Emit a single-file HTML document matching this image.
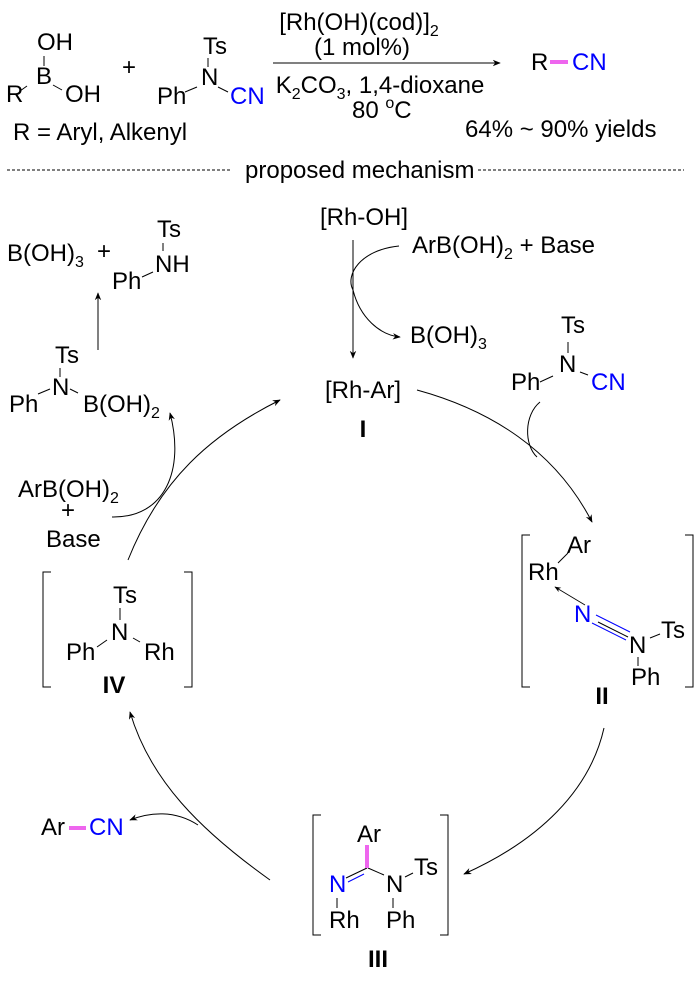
<!DOCTYPE html>
<html><head><meta charset="utf-8"><style>
html,body{margin:0;padding:0;background:#fff;}
svg text{font-family:"Liberation Sans",Arial,sans-serif;font-size:24px;fill:#000;}
.b{fill:#0000ff !important;}
.m{text-anchor:middle;}
</style></head><body>
<svg width="700" height="981" viewBox="0 0 700 981" xmlns="http://www.w3.org/2000/svg">
<defs>
<marker id="a" viewBox="0 0 10 10" refX="9" refY="5" markerWidth="8" markerHeight="8" orient="auto-start-reverse"><path d="M0,1 L10,5 L0,9 L3,5z" fill="#000"/></marker>
</defs>
<g stroke="#000" stroke-width="1" fill="none">
<line x1="44" y1="56" x2="44" y2="66"/>
<line x1="20" y1="91" x2="27" y2="86"/>
<line x1="53" y1="85" x2="62" y2="90"/>
<line x1="208" y1="58" x2="208" y2="67"/>
<line x1="185" y1="92" x2="197" y2="87"/>
<line x1="218" y1="87" x2="228" y2="92"/>
<line x1="273" y1="63" x2="500" y2="63" marker-end="url(#a)"/>
<line x1="7" y1="170" x2="232" y2="170" stroke-dasharray="3,2"/>
<line x1="478" y1="170" x2="684" y2="170" stroke-dasharray="3,2"/>
<line x1="353" y1="240" x2="353" y2="358" marker-end="url(#a)"/>
<path d="M399,246 C360,250 345,275 353,290 C360,318 380,335 400,337" marker-end="url(#a)"/>
<line x1="98" y1="350" x2="98" y2="293" marker-end="url(#a)"/>
<line x1="163" y1="243" x2="163" y2="251"/>
<line x1="142" y1="277" x2="153" y2="272"/>
<line x1="60" y1="368" x2="60" y2="377"/>
<line x1="38" y1="394" x2="50" y2="389"/>
<line x1="70" y1="389" x2="78" y2="393"/>
<line x1="568" y1="342" x2="568" y2="353"/>
<line x1="540" y1="382" x2="553" y2="376"/>
<line x1="580" y1="372" x2="588" y2="375"/>
<path d="M417,390 C490,410 555,450 592,522" marker-end="url(#a)"/>
<path d="M540,402 C524,415 524,445 537,457"/>
<path d="M604,728 C590,790 540,840 464,874" marker-end="url(#a)"/>
<path d="M270,880 C200,830 150,780 130,712" marker-end="url(#a)"/>
<path d="M198,825 C175,810 150,812 130,820" marker-end="url(#a)"/>
<path d="M128,560 C160,480 210,435 280,400" marker-end="url(#a)"/>
<path d="M112,517 C165,518 185,470 170,413" marker-end="url(#a)"/>
<path d="M530,535 H522 V687 H530 M685,535 H693 V687 H685"/>
<path d="M51,572 H43 V687 H51 M184,572 H192 V687 H184"/>
<path d="M321,815 H313 V935 H321 M440,815 H448 V935 H440"/>
<line x1="558" y1="563" x2="568" y2="553"/>
<line x1="585" y1="605" x2="555" y2="587" stroke-width="0.8" marker-end="url(#a)"/>
<line x1="596" y1="615" x2="630" y2="632" stroke="#0000ff"/>
<line x1="592" y1="623" x2="626" y2="640" stroke="#0000ff"/>
<line x1="598" y1="622" x2="628" y2="637"/>
<line x1="650" y1="638" x2="660" y2="634"/>
<line x1="638" y1="657" x2="638" y2="666"/>
<line x1="120" y1="608" x2="120" y2="620"/>
<line x1="97" y1="647" x2="107" y2="640"/>
<line x1="133" y1="638" x2="140" y2="642"/>
<line x1="367" y1="868" x2="346" y2="878"/>
<line x1="364" y1="874" x2="348" y2="882" stroke="#0000ff"/>
<line x1="368" y1="868" x2="384" y2="875"/>
<line x1="405" y1="877" x2="413" y2="873"/>
<line x1="337" y1="898" x2="337" y2="908"/>
<line x1="393" y1="898" x2="393" y2="908"/>
</g>
<line x1="367" y1="845" x2="367" y2="868" stroke="#ee66ee" stroke-width="4"/>
<line x1="550" y1="62" x2="568" y2="62" stroke="#ee66ee" stroke-width="4"/>
<line x1="69" y1="828" x2="86" y2="828" stroke="#ee66ee" stroke-width="4"/>
<text x="37" y="50">OH</text>
<text x="36" y="84">B</text>
<text x="6" y="102">R</text>
<text x="65" y="102">OH</text>
<text x="122" y="75">+</text>
<text x="203" y="54">Ts</text>
<text x="201" y="85">N</text>
<text x="157" y="104">Ph</text>
<text x="230" y="104" class="b">CN</text>
<text x="359" y="30" class="m">[Rh(OH)(cod)]<tspan font-size="16" dy="6">2</tspan></text>
<text x="362" y="55" class="m">(1 mol%)</text>
<text x="380" y="93" class="m">K<tspan font-size="16" dy="6">2</tspan><tspan dy="-6">CO</tspan><tspan font-size="16" dy="6">3</tspan><tspan dy="-6">, 1,4-dioxane</tspan></text>
<text x="352" y="118">80 <tspan font-size="16" dy="-10">o</tspan><tspan dy="10">C</tspan></text>
<text x="531" y="70">R</text>
<text x="572" y="70" class="b">CN</text>
<text x="13" y="140">R = Aryl, Alkenyl</text>
<text x="465" y="137">64% ~ 90% yields</text>
<text x="245" y="178">proposed mechanism</text>
<text x="320" y="225">[Rh-OH]</text>
<text x="412" y="253">ArB(OH)<tspan font-size="16" dy="6">2</tspan><tspan dy="-6"> + Base</tspan></text>
<text x="410" y="343">B(OH)<tspan font-size="16" dy="6">3</tspan></text>
<text x="325" y="398">[Rh-Ar]</text>
<text x="363" y="437" class="m" font-weight="bold">I</text>
<text x="7" y="261">B(OH)<tspan font-size="16" dy="6">3</tspan></text>
<text x="97" y="259">+</text>
<text x="157" y="237">Ts</text>
<text x="155" y="272">NH</text>
<text x="112" y="289">Ph</text>
<text x="55" y="363">Ts</text>
<text x="52" y="395">N</text>
<text x="9" y="412">Ph</text>
<text x="83" y="412">B(OH)<tspan font-size="16" dy="6">2</tspan></text>
<text x="18" y="497">ArB(OH)<tspan font-size="16" dy="6">2</tspan></text>
<text x="61" y="518">+</text>
<text x="46" y="547">Base</text>
<text x="561" y="333">Ts</text>
<text x="559" y="372">N</text>
<text x="511" y="390">Ph</text>
<text x="591" y="390" class="b">CN</text>
<text x="567" y="553">Ar</text>
<text x="528" y="580">Rh</text>
<text x="574" y="622" class="b">N</text>
<text x="629" y="653">N</text>
<text x="661" y="638">Ts</text>
<text x="631" y="685">Ph</text>
<text x="602" y="704" class="m" font-weight="bold">II</text>
<text x="113" y="603">Ts</text>
<text x="111" y="640">N</text>
<text x="66" y="660">Ph</text>
<text x="144" y="660">Rh</text>
<text x="114" y="693" class="m" font-weight="bold">IV</text>
<text x="357" y="842">Ar</text>
<text x="329" y="892" class="b">N</text>
<text x="386" y="892">N</text>
<text x="414" y="875">Ts</text>
<text x="329" y="928">Rh</text>
<text x="386" y="928">Ph</text>
<text x="378" y="967" class="m" font-weight="bold">III</text>
<text x="41" y="835">Ar</text>
<text x="89" y="835" class="b">CN</text>
</svg>
</body></html>
